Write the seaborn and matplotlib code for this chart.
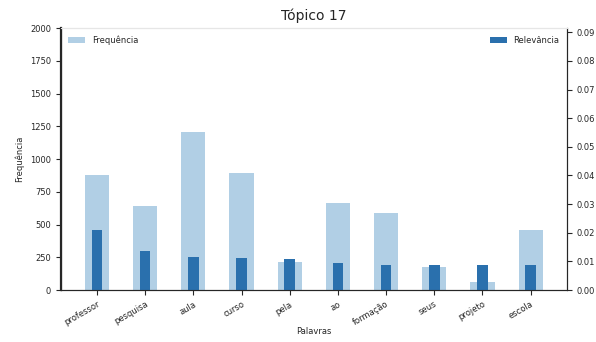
import seaborn as sns
import matplotlib.pyplot as plt

# Dados do tópico
palavras = ["professor", "pesquisa", "aula", "curso", "pela", "ao",
            "formação", "seus", "projeto", "escola"]
frequencia = [880, 640, 1210, 895, 215, 665, 590, 175, 65, 460]
relevancia = [0.0210, 0.0137, 0.0116, 0.0111, 0.0108, 0.0094,
              0.0088, 0.0088, 0.0088, 0.0088]

sns.set_style("ticks")
plt.rcParams['font.family'] = ['DejaVu Sans']

fig, ax = plt.subplots(figsize=(5.96, 3.42), dpi=100)
ax2 = ax.twinx()

sns.barplot(x=palavras, y=frequencia, ax=ax, color="#b1cfe5", width=0.5,
            saturation=1, linewidth=0, label="Frequência")
sns.barplot(x=palavras, y=relevancia, ax=ax2, color="#2a70ad", width=0.22,
            saturation=1, linewidth=0, label="Relevância")

ax.set_xlim(-0.75, 9.75)
ax.set_ylim(0, 2000)
ax2.set_ylim(0, 0.0915)
ax2.set_yticks([i / 100 for i in range(10)])
ax2.set_yticklabels([f"{i / 100:.2f}" for i in range(10)])

ax.set_title("Tópico 17", fontsize=10)
ax.set_ylabel("Frequência", fontsize=6)
ax.set_xlabel("Palavras", fontsize=6, labelpad=0)
ax2.set_ylabel("")
ax.tick_params(axis="x", labelsize=6, rotation=30)
for lab in ax.get_xticklabels():
    lab.set_ha("right")
    lab.set_rotation_mode("anchor")
ax.tick_params(axis="y", labelsize=6)
ax2.tick_params(axis="y", labelsize=6)

for a in (ax, ax2):
    a.spines["top"].set_color("#e6e6e6")
ax.spines["left"].set_linewidth(1.6)

ax.legend(loc="upper left", fontsize=6, frameon=False)
ax2.legend(loc="upper right", fontsize=6, frameon=False)

fig.subplots_adjust(left=0.102, right=0.951, top=0.918, bottom=0.152)
plt.savefig("out.png", dpi=100)
plt.close()
